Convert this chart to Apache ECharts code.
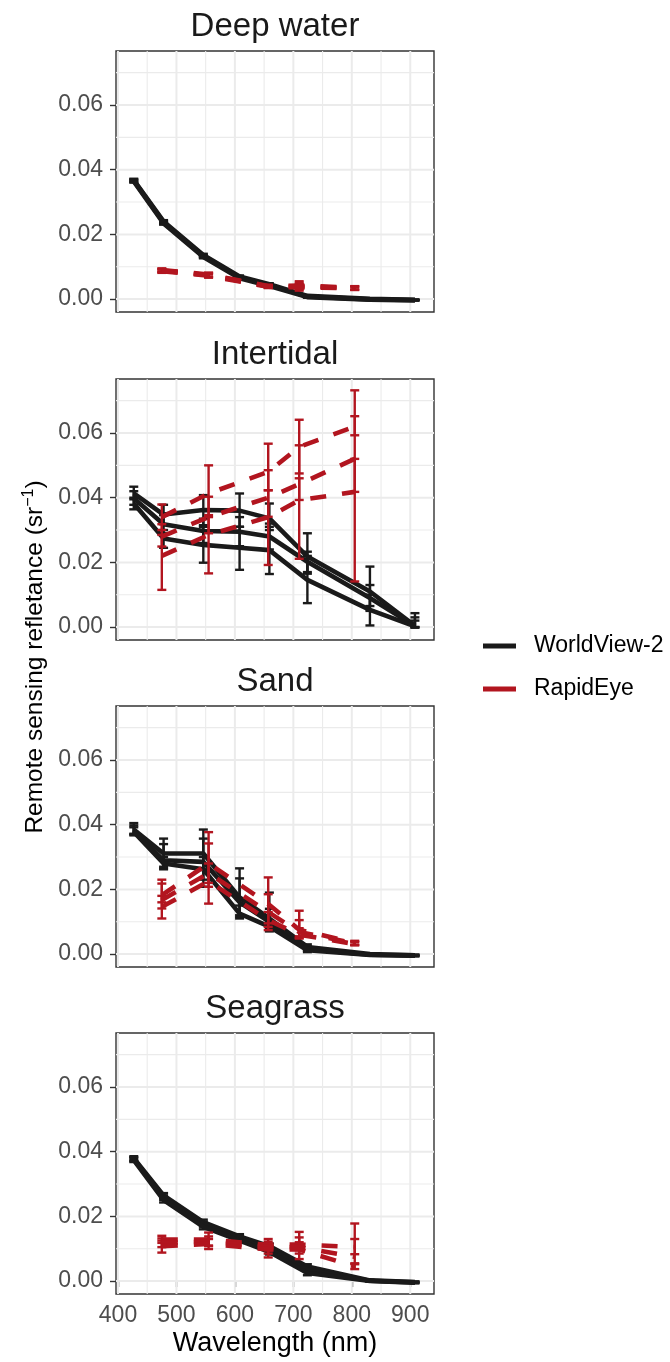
<!DOCTYPE html>
<html><head><meta charset="utf-8">
<script src="https://cdn.jsdelivr.net/npm/echarts@6/dist/echarts.min.js"></script>
<style>html,body{margin:0;padding:0;background:#fff}#c{width:670px;height:1362px}</style>
</head><body><div id="c"></div>
<script>
// ---------------- DATA ----------------
const panelNames = ['Deep water', 'Intertidal', 'Sand', 'Seagrass'];
const wvBands = [427, 478, 546, 608, 659, 724, 831, 908];
const reBands = [475, 555, 657, 710, 805];
const xTicks = [400, 500, 600, 700, 800, 900];
const xMinor = [450, 550, 650, 750, 850];
const yTicks = [0, 0.02, 0.04, 0.06];
const yMinor = [0.01, 0.03, 0.05, 0.07];
const sensorNames = ['WorldView-2', 'RapidEye'];

// Deep water
const deepWV_mean = [
  [0.0368, 0.0240, 0.0136, 0.0070, 0.0046, 0.0010, 0.0001, -0.0002],
  [0.0366, 0.0237, 0.0133, 0.0067, 0.0043, 0.0008, -0.0001, -0.0003],
  [0.0364, 0.0234, 0.0130, 0.0064, 0.0040, 0.0006, -0.0002, -0.0004]];
const deepWV_lo = [
  [0.0364, 0.0236, 0.0132, 0.0067, 0.0043, 0.0008, -0.0001, -0.0003],
  [0.0362, 0.0233, 0.0129, 0.0064, 0.0040, 0.0006, -0.0002, -0.0004],
  [0.0360, 0.0230, 0.0126, 0.0061, 0.0037, 0.0004, -0.0003, -0.0005]];
const deepWV_hi = [
  [0.0372, 0.0244, 0.0140, 0.0073, 0.0049, 0.0012, 0.0002, -0.0001],
  [0.0370, 0.0241, 0.0137, 0.0070, 0.0046, 0.0010, 0.0000, -0.0002],
  [0.0368, 0.0238, 0.0134, 0.0067, 0.0043, 0.0008, -0.0001, -0.0003]];
const deepRE_mean = [
  [0.0090, 0.0076, 0.0040, 0.0042, 0.0035],
  [0.0088, 0.0074, 0.0039, 0.0039, 0.0034],
  [0.0086, 0.0072, 0.0038, 0.0036, 0.0033]];
const deepRE_lo = [
  [0.0085, 0.0070, 0.0036, 0.0034, 0.0030],
  [0.0083, 0.0068, 0.0035, 0.0030, 0.0029],
  [0.0081, 0.0066, 0.0034, 0.0026, 0.0028]];
const deepRE_hi = [
  [0.0095, 0.0082, 0.0044, 0.0055, 0.0040],
  [0.0093, 0.0080, 0.0043, 0.0050, 0.0039],
  [0.0091, 0.0078, 0.0042, 0.0046, 0.0038]];

// Intertidal
const interWV_mean = [
  [0.0413, 0.0348, 0.0362, 0.0360, 0.0336, 0.0218, 0.0110, 0.0004],
  [0.0398, 0.0318, 0.0297, 0.0295, 0.0280, 0.0202, 0.0090, 0.0003],
  [0.0382, 0.0274, 0.0254, 0.0245, 0.0238, 0.0146, 0.0053, 0.0002]];
const interWV_lo = [
  [0.0395, 0.0318, 0.0315, 0.0310, 0.0300, 0.0170, 0.0065, -0.0002],
  [0.0378, 0.0290, 0.0260, 0.0250, 0.0240, 0.0165, 0.0050, 0.0000],
  [0.0364, 0.0245, 0.0199, 0.0177, 0.0164, 0.0074, 0.0005, 0.0000]];
const interWV_hi = [
  [0.0434, 0.0378, 0.0408, 0.0413, 0.0382, 0.0290, 0.0187, 0.0043],
  [0.0420, 0.0346, 0.0335, 0.0340, 0.0320, 0.0233, 0.0130, 0.0030],
  [0.0400, 0.0300, 0.0310, 0.0310, 0.0310, 0.0220, 0.0100, 0.0020]];
const interRE_mean = [
  [0.0340, 0.0413, 0.0480, 0.0557, 0.0620],
  [0.0280, 0.0340, 0.0400, 0.0442, 0.0520],
  [0.0220, 0.0285, 0.0340, 0.0392, 0.0418]];
const interRE_lo = [
  [0.0300, 0.0346, 0.0423, 0.0475, 0.0593],
  [0.0249, 0.0290, 0.0341, 0.0393, 0.0418],
  [0.0115, 0.0166, 0.0192, 0.0211, 0.0141]];
const interRE_hi = [
  [0.0379, 0.0500, 0.0567, 0.0641, 0.0732],
  [0.0318, 0.0403, 0.0485, 0.0562, 0.0652],
  [0.0285, 0.0340, 0.0423, 0.0460, 0.0520]];

// Sand
const sandWV_mean = [
  [0.0385, 0.0311, 0.0311, 0.0175, 0.0110, 0.0022, 0.0000, -0.0004],
  [0.0382, 0.0290, 0.0285, 0.0160, 0.0100, 0.0016, -0.0002, -0.0004],
  [0.0378, 0.0280, 0.0262, 0.0125, 0.0085, 0.0012, -0.0003, -0.0005]];
const sandWV_lo = [
  [0.0372, 0.0270, 0.0262, 0.0110, 0.0080, 0.0014, -0.0002, -0.0006],
  [0.0370, 0.0265, 0.0230, 0.0120, 0.0070, 0.0010, -0.0004, -0.0006],
  [0.0367, 0.0262, 0.0208, 0.0115, 0.0075, 0.0006, -0.0005, -0.0007]];
const sandWV_hi = [
  [0.0405, 0.0357, 0.0385, 0.0265, 0.0190, 0.0030, 0.0002, -0.0002],
  [0.0398, 0.0340, 0.0357, 0.0234, 0.0140, 0.0024, 0.0000, -0.0002],
  [0.0392, 0.0300, 0.0300, 0.0150, 0.0100, 0.0018, -0.0001, -0.0003]];
const sandRE_mean = [
  [0.0182, 0.0280, 0.0155, 0.0075, 0.0035],
  [0.0167, 0.0250, 0.0130, 0.0068, 0.0033],
  [0.0146, 0.0225, 0.0105, 0.0060, 0.0031]];
const sandRE_lo = [
  [0.0160, 0.0220, 0.0095, 0.0055, 0.0029],
  [0.0141, 0.0208, 0.0084, 0.0050, 0.0028],
  [0.0110, 0.0156, 0.0074, 0.0048, 0.0027]];
const sandRE_hi = [
  [0.0230, 0.0377, 0.0237, 0.0134, 0.0041],
  [0.0218, 0.0342, 0.0185, 0.0105, 0.0039],
  [0.0180, 0.0280, 0.0130, 0.0080, 0.0037]];

// Seagrass
const seaWV_mean = [
  [0.0380, 0.0265, 0.0182, 0.0138, 0.0108, 0.0045, 0.0002, -0.0003],
  [0.0377, 0.0258, 0.0176, 0.0132, 0.0099, 0.0035, 0.0001, -0.0004],
  [0.0374, 0.0250, 0.0168, 0.0125, 0.0090, 0.0025, 0.0000, -0.0005]];
const seaWV_lo = [
  [0.0374, 0.0258, 0.0174, 0.0131, 0.0100, 0.0038, 0.0000, -0.0005],
  [0.0371, 0.0251, 0.0168, 0.0125, 0.0091, 0.0028, -0.0001, -0.0006],
  [0.0368, 0.0243, 0.0160, 0.0118, 0.0082, 0.0018, -0.0002, -0.0007]];
const seaWV_hi = [
  [0.0386, 0.0272, 0.0190, 0.0145, 0.0116, 0.0052, 0.0004, -0.0001],
  [0.0383, 0.0265, 0.0184, 0.0139, 0.0107, 0.0042, 0.0003, -0.0002],
  [0.0380, 0.0257, 0.0176, 0.0132, 0.0098, 0.0032, 0.0002, -0.0003]];
const seaRE_mean = [
  [0.0128, 0.0128, 0.0112, 0.0113, 0.0105],
  [0.0118, 0.0122, 0.0105, 0.0105, 0.0075],
  [0.0108, 0.0115, 0.0098, 0.0098, 0.0045]];
const seaRE_lo = [
  [0.0118, 0.0110, 0.0095, 0.0095, 0.0083],
  [0.0105, 0.0108, 0.0085, 0.0085, 0.0052],
  [0.0088, 0.0099, 0.0073, 0.0068, 0.0037]];
const seaRE_hi = [
  [0.0140, 0.0150, 0.0130, 0.0152, 0.0178],
  [0.0132, 0.0138, 0.0122, 0.0135, 0.0130],
  [0.0125, 0.0130, 0.0115, 0.0120, 0.0055]];

// ---------------- LAYOUT / STYLE ----------------
const FONT = '"Liberation Sans", Arial, sans-serif';
const BLACK = '#1a1a1a';
const RED = '#b2151f';
const panelTop = [51, 379, 706, 1033];
const panelH = 261, panelL = 116, panelW = 318;
const X_MIN = 396.6, X_MAX = 940.6, Y_MIN = -0.004, Y_MAX = 0.0767;

const panelData = [
  { wv: [deepWV_mean, deepWV_lo, deepWV_hi], re: [deepRE_mean, deepRE_lo, deepRE_hi] },
  { wv: [interWV_mean, interWV_lo, interWV_hi], re: [interRE_mean, interRE_lo, interRE_hi] },
  { wv: [sandWV_mean, sandWV_lo, sandWV_hi], re: [sandRE_mean, sandRE_lo, sandRE_hi] },
  { wv: [seaWV_mean, seaWV_lo, seaWV_hi], re: [seaRE_mean, seaRE_lo, seaRE_hi] }
];

const grids = [], xAxes = [], yAxes = [], series = [], graphics = [];

function errRender(color) {
  return function (params, api) {
    const x = api.value(0), lo = api.value(1), hi = api.value(2);
    const a = api.coord([x, lo]), b = api.coord([x, hi]);
    const w = 4.5;
    const st = { stroke: color, lineWidth: 2.4, lineCap: 'butt' };
    return { type: 'group', children: [
      { type: 'line', shape: { x1: a[0], y1: a[1], x2: b[0], y2: b[1] }, style: st },
      { type: 'line', shape: { x1: a[0] - w, y1: a[1], x2: a[0] + w, y2: a[1] }, style: st },
      { type: 'line', shape: { x1: b[0] - w, y1: b[1], x2: b[0] + w, y2: b[1] }, style: st }
    ] };
  };
}

panelNames.forEach((name, i) => {
  const last = i === panelNames.length - 1;
  grids.push({ left: panelL, top: panelTop[i], width: panelW, height: panelH,
    show: true, borderColor: '#333333', borderWidth: 1.4, backgroundColor: '#ffffff' });
  xAxes.push({ type: 'value', gridIndex: i, min: X_MIN, max: X_MAX,
    axisLine: { show: false }, splitLine: { show: false },
    axisTick: { show: last, customValues: xTicks, length: 6, lineStyle: { color: '#333333', width: 1.4 } },
    axisLabel: { show: last, customValues: xTicks, fontSize: 23, color: '#4d4d4d', fontFamily: FONT, margin: 10 } });
  yAxes.push({ type: 'value', gridIndex: i, min: Y_MIN, max: Y_MAX,
    axisLine: { show: false }, splitLine: { show: false },
    axisTick: { show: true, customValues: yTicks, length: 6, lineStyle: { color: '#333333', width: 1.4 } },
    axisLabel: { show: true, customValues: yTicks, fontSize: 23, color: '#4d4d4d', fontFamily: FONT, margin: 13,
      formatter: v => v.toFixed(2) } });

  // grid lines (vertical then horizontal), drawn through axis scales
  series.push({ type: 'custom', xAxisIndex: i, yAxisIndex: i, silent: true, z: 1,
    data: xTicks.map(v => [v, 1]).concat(xMinor.map(v => [v, 0])),
    renderItem: (params, api) => {
      const cs = params.coordSys; const p = api.coord([api.value(0), 0]);
      return { type: 'line', shape: { x1: p[0], y1: cs.y, x2: p[0], y2: cs.y + cs.height },
        style: { stroke: '#ebebeb', lineWidth: api.value(1) ? 2 : 1.1 } };
    } });
  series.push({ type: 'custom', xAxisIndex: i, yAxisIndex: i, silent: true, z: 1,
    data: yTicks.map(v => [v, 1]).concat(yMinor.map(v => [v, 0])),
    renderItem: (params, api) => {
      const cs = params.coordSys; const p = api.coord([500, api.value(0)]);
      return { type: 'line', shape: { x1: cs.x, y1: p[1], x2: cs.x + cs.width, y2: p[1] },
        style: { stroke: '#ebebeb', lineWidth: api.value(1) ? 2 : 1.1 } };
    } });

  const sensors = [
    { name: sensorNames[0], bands: wvBands, d: panelData[i].wv, color: BLACK, dash: 'solid', z: 3 },
    { name: sensorNames[1], bands: reBands, d: panelData[i].re, color: RED, dash: [16, 16], z: 4 }
  ];
  sensors.forEach(s => {
    const [mean, lo, hi] = s.d;
    mean.forEach((m, k) => {
      series.push({ type: 'line', name: s.name, xAxisIndex: i, yAxisIndex: i, z: s.z,
        data: s.bands.map((b, j) => [b, m[j]]), showSymbol: false, symbol: 'none', silent: true,
        color: s.color, itemStyle: { color: s.color },
        lineStyle: { color: s.color, width: 4.6, type: s.dash, join: 'round', cap: 'butt' } });
      series.push({ type: 'custom', name: s.name + ' error', xAxisIndex: i, yAxisIndex: i, z: s.z, silent: true,
        encode: { x: 0, y: [1, 2] },
        data: s.bands.map((b, j) => [b, lo[k][j], hi[k][j]]),
        renderItem: errRender(s.color) });
    });
  });

  graphics.push({ type: 'text', x: panelL + panelW / 2, y: panelTop[i] - 24,
    style: { text: name, font: '33px ' + FONT, fill: '#1a1a1a', align: 'center', verticalAlign: 'middle' } });
});

graphics.push({ type: 'text', x: panelL + panelW / 2, y: 1344,
  style: { text: 'Wavelength (nm)', font: '27px ' + FONT, fill: '#000000', align: 'center', verticalAlign: 'middle' } });
graphics.push({ type: 'text', x: 35, y: 657, rotation: Math.PI / 2,
  style: { text: '{a|Remote sensing refletance (sr}{b|\u22121}{a|)}', align: 'center', verticalAlign: 'middle',
    rich: { a: { fontSize: 24.5, fontFamily: FONT, fill: '#000000', lineHeight: 28 },
            b: { fontSize: 16, fontFamily: FONT, fill: '#000000', verticalAlign: 'top', lineHeight: 28 } } } });

const chart = echarts.init(document.getElementById('c'), null, { renderer: 'canvas' });
chart.setOption({
  animation: false,
  backgroundColor: '#ffffff',
  grid: grids, xAxis: xAxes, yAxis: yAxes, series: series,
  legend: { data: sensorNames, orient: 'vertical', left: 478, top: 627, itemWidth: 33, itemHeight: 5,
    itemGap: 15, icon: 'rect', selectedMode: false,
    textStyle: { fontSize: 23, color: '#000000', fontFamily: FONT, lineHeight: 28, padding: [0, 0, 0, 13] } },
  graphic: graphics
});
</script></body></html>
